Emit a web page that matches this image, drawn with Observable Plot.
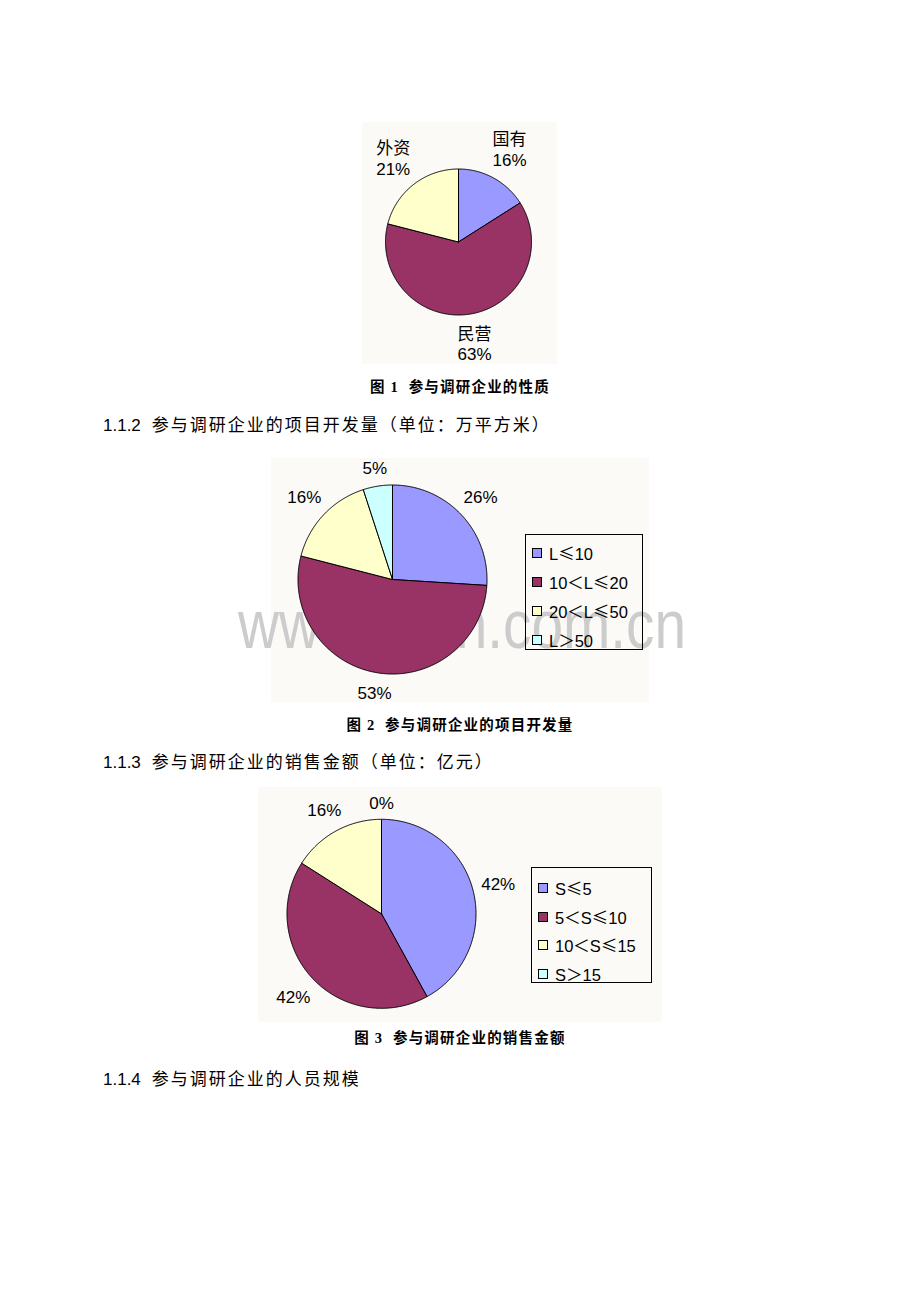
<!DOCTYPE html>
<html><head><meta charset="utf-8">
<script src="https://cdn.jsdelivr.net/npm/d3@7"></script>
<script src="https://cdn.jsdelivr.net/npm/@observablehq/plot@0.6"></script>
<style>
body{margin:0;background:#fff;}
#page{position:relative;width:920px;height:1302px;overflow:hidden;font-family:"Liberation Sans","Noto Sans CJK SC",sans-serif;color:#000;}
.box{position:absolute;background:#FBFAF7;z-index:0;}
.chart{position:absolute;z-index:2;}
.legend{position:absolute;z-index:3;border:1px solid #000;box-sizing:border-box;}
.item{position:absolute;height:20px;display:flex;align-items:center;font-size:16.5px;white-space:nowrap;}
.item .sym{font-family:"Noto Sans CJK SC",sans-serif;}
.sw{width:8px;height:8px;border:1px solid #000;margin-right:7px;flex:none;}
.heading{position:absolute;left:103px;font-size:17px;line-height:22px;white-space:nowrap;}
.heading .cj{letter-spacing:2px;margin-left:11px;}
.caption{position:absolute;left:0;width:920px;text-align:center;font-weight:bold;font-size:14.5px;line-height:18px;font-family:"Liberation Serif","Noto Sans CJK SC",serif;letter-spacing:1.2px;white-space:pre;}
#wm{position:absolute;left:0;top:0;z-index:1;}
</style>
</head>
<body>
<div id="page"></div>
<script>
// ---- data ----
const ownershipCategories = ["国有", "民营", "外资"];
const ownershipValues = [16, 63, 21];
const areaCategories = ["L≤10", "10＜L≤20", "20＜L≤50", "L＞50"];
const areaValues = [26, 53, 16, 5];
const salesCategories = ["S≤5", "5＜S≤10", "10＜S≤15", "S＞15"];
const salesValues = [42, 42, 16, 0];
const sliceColors = ["#9999FF", "#993366", "#FFFFCC", "#CCFFFF"];
const headings = [
  ["1.1.2", "参与调研企业的项目开发量（单位：万平方米）"],
  ["1.1.3", "参与调研企业的销售金额（单位：亿元）"],
  ["1.1.4", "参与调研企业的人员规模"]
];
const captions = ["图 1  参与调研企业的性质", "图 2  参与调研企业的项目开发量", "图 3  参与调研企业的销售金额"];
const watermarkText = "www.zixin.com.cn";

const page = document.getElementById("page");
const FONT = "'Liberation Sans','Noto Sans CJK SC',sans-serif";
const ctx = document.createElement("canvas").getContext("2d");

function el(tag, cls, style, html) {
  const e = document.createElement(tag);
  if (cls) e.className = cls;
  Object.assign(e.style, style || {});
  if (html != null) e.innerHTML = html;
  page.appendChild(e);
  return e;
}

function drawPie({box, center, r, categories, values, labels, fontSize}) {
  const W = box.w, H = box.h;
  const cx = center[0] - box.x, cy = center[1] - box.y;
  el("div", "box", {left: box.x + "px", top: box.y + "px", width: W + "px", height: H + "px"});
  const arcs = d3.pie().sort(null).value(d => d)(values);
  const pts = [];
  arcs.forEach((a, i) => {
    const key = categories[i];
    if (a.endAngle - a.startAngle <= 0) return;
    pts.push({key, x: 0, y: 0});
    const n = Math.max(2, Math.ceil((a.endAngle - a.startAngle) / (Math.PI / 360)));
    for (let k = 0; k <= n; k++) {
      const t = a.startAngle + (a.endAngle - a.startAngle) * k / n;
      pts.push({key, x: Math.sin(t), y: Math.cos(t)});
    }
    pts.push({key, x: 0, y: 0});
  });
  const lineH = fontSize * 1.2;
  ctx.font = `${fontSize}px ${FONT}`;
  const lab = arcs.map((a, i) => {
    const text = labels[i];
    const lines = text.split("\n");
    const w = Math.max(...lines.map(s => ctx.measureText(s).width));
    const h = lines.length * lineH;
    const m = (a.startAngle + a.endAngle) / 2;
    const s = Math.sin(m), c = Math.cos(m);
    const d = (r + 7 + Math.abs(s) * w / 2 + Math.abs(c) * h / 2) / r;
    return {text, x: s * d, y: c * d};
  });
  const svg = Plot.plot({
    width: W, height: H, margin: 0,
    x: {domain: [-cx / r, (W - cx) / r], axis: null},
    y: {domain: [-(H - cy) / r, cy / r], axis: null},
    color: {domain: categories, range: sliceColors},
    style: {background: "transparent", overflow: "visible"},
    marks: [
      Plot.line(pts, {x: "x", y: "y", z: "key", fill: "key", stroke: "#000", strokeWidth: 1, strokeLinejoin: "round", curve: "linear"}),
      Plot.text(lab, {x: "x", y: "y", text: "text", fontSize, fontFamily: FONT, fill: "#000", lineHeight: 1.2, lineAnchor: "middle", textAnchor: "middle"})
    ]
  });
  const wrap = el("div", "chart", {left: box.x + "px", top: box.y + "px", width: W + "px", height: H + "px"});
  wrap.appendChild(svg);
}

function drawLegend({x, y, w, h, categories, firstRow, rowGap, padLeft}) {
  const lg = el("div", "legend", {left: x + "px", top: y + "px", width: w + "px", height: h + "px"});
  categories.forEach((c, i) => {
    const it = document.createElement("div");
    it.className = "item";
    it.style.left = padLeft + "px";
    it.style.top = (firstRow + i * rowGap - 10) + "px";
    const txt = c.replace(/([≤＜＞])/g, '<span class="sym">$1</span>');
    it.innerHTML = `<span class="sw" style="background:${sliceColors[i]}"></span><span>${txt}</span>`;
    lg.appendChild(it);
  });
}

// Watermark (behind charts, above chart backgrounds)
const wm = d3.select(page).append("svg").attr("id", "wm").attr("width", 920).attr("height", 1302);
wm.append("text").attr("x", 238).attr("y", 648).attr("font-size", 68).attr("font-family", FONT)
  .attr("fill", "#cccccc").attr("textLength", 448).attr("lengthAdjust", "spacingAndGlyphs").text(watermarkText);

// Chart 1
drawPie({box: {x: 362, y: 122, w: 195, h: 242}, center: [458, 241.5], r: 73,
  categories: ownershipCategories, values: ownershipValues,
  labels: ownershipCategories.map((c, i) => `${c}\n${ownershipValues[i]}%`), fontSize: 17});
el("div", "caption", {top: (387 - 9) + "px"}, captions[0]);

// Headings
headings.forEach((hd, i) => {
  const yc = [426, 763, 1080][i];
  el("div", "heading", {top: (yc - 11) + "px"}, `${hd[0]}<span class="cj">${hd[1]}</span>`);
});

// Chart 2
drawPie({box: {x: 271, y: 458, w: 378, h: 244}, center: [392, 579], r: 94.5,
  categories: areaCategories, values: areaValues,
  labels: areaValues.map(v => `${v}%`), fontSize: 17});
drawLegend({x: 525, y: 534, w: 118, h: 116, categories: areaCategories, firstRow: 18, rowGap: 28.9, padLeft: 6});
el("div", "caption", {top: (725 - 9) + "px"}, captions[1]);

// Chart 3
drawPie({box: {x: 258, y: 787, w: 404, h: 235}, center: [381, 913.3], r: 94.5,
  categories: salesCategories, values: salesValues,
  labels: salesValues.map(v => `${v}%`), fontSize: 17});
drawLegend({x: 531, y: 867, w: 121, h: 116, categories: salesCategories, firstRow: 20.3, rowGap: 28.5, padLeft: 6});
el("div", "caption", {top: (1038 - 9) + "px"}, captions[2]);
</script>
</body></html>
